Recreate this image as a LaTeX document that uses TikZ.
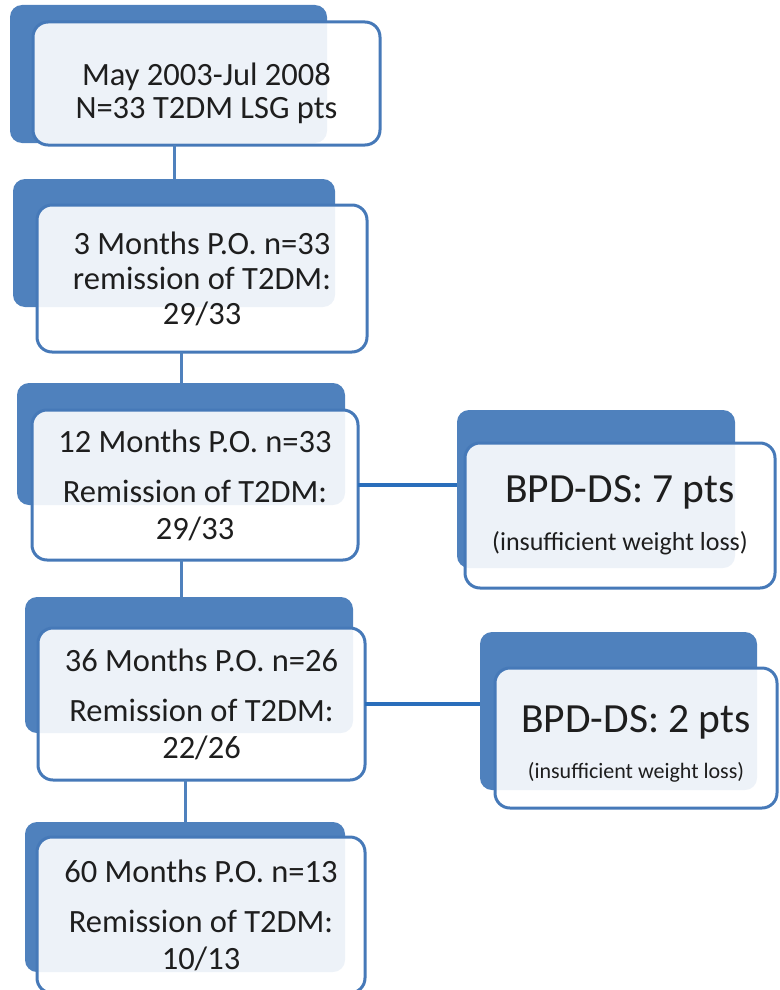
\documentclass[tikz,border=0pt]{standalone}
\usepackage{fontspec}
\setmainfont{Carlito}
\definecolor{boxblue}{HTML}{4F81BD}
\definecolor{edgeblue}{HTML}{4679B8}
\definecolor{linkblue}{HTML}{2A6EBB}
\definecolor{txt}{HTML}{1E1E1E}

\begin{document}
\begin{tikzpicture}[x=1pt, y=-1pt,
  back/.style={fill=boxblue, rounded corners=12pt, inner sep=0pt, outer sep=0pt},
  front/.style={draw=edgeblue, line width=3pt, fill=white, fill opacity=0.9, text opacity=1, rounded corners=15pt, inner sep=0pt, outer sep=0pt, align=center, text=txt, font={\fontsize{32.5}{37}\selectfont}},
  vlink/.style={draw=boxblue, line width=3pt},
  hlink/.style={draw=linkblue, line width=4pt}]
\useasboundingbox (0,0) rectangle (779,990);
% main column
\node[back, minimum width=317pt, minimum height=138pt] (b1b) at (168.5,74) {};
\node[front, minimum width=347pt, minimum height=123pt, font={\fontsize{32.5}{33}\selectfont}] (b1f) at (206.5,83.5) {\rule{0pt}{42pt}May 2003-Jul 2008\\N=33 T2DM LSG pts};
\node[back, minimum width=322pt, minimum height=128pt] (b2b) at (174,243) {};
\node[front, minimum width=330pt, minimum height=147pt, font={\fontsize{32.5}{35}\selectfont}] (b2f) at (202,278.5) {3 Months P.O. n=33\\remission of T2DM:\\29/33};
\node[back, minimum width=328pt, minimum height=122pt] (b3b) at (181,444) {};
\node[front, minimum width=326pt, minimum height=150pt] (b3f) at (195,485) {12 Months P.O. n=33\\[13pt]Remission of T2DM:\\29/33};
\node[back, minimum width=328pt, minimum height=136pt] (b4b) at (189,665) {};
\node[front, minimum width=327pt, minimum height=152pt] (b4f) at (201.5,704) {36 Months P.O. n=26\\[13pt]Remission of T2DM:\\22/26};
\node[back, minimum width=320pt, minimum height=150pt] (b5b) at (185,897) {};
\node[front, minimum width=328pt, minimum height=156pt] (b5f) at (201,915) {60 Months P.O. n=13\\[13pt]Remission of T2DM:\\10/13};
% side boxes
\node[back, minimum width=278pt, minimum height=158pt] (s1b) at (596,489) {};
\node[front, minimum width=310pt, minimum height=145pt] (s1f) at (620,515.5) {{\fontsize{41.5}{44}\selectfont BPD-DS: 7 pts}\\[11pt]{\fontsize{26}{28}\selectfont (insufficient weight loss)}};
\node[back, minimum width=277pt, minimum height=158pt] (s2b) at (618.5,711) {};
\node[front, minimum width=282pt, minimum height=140pt] (s2f) at (636,738) {{\fontsize{41.5}{44}\selectfont\rule{0pt}{39pt}BPD-DS: 2 pts}\\[9pt]{\fontsize{22}{25}\selectfont (insufficient weight loss)}};
\draw[vlink] (b1f.south -| b2b.north) -- (b2b.north);
\draw[vlink] (b2f.south -| b3b.north) -- (b3b.north);
\draw[vlink] (b3f.south -| b3b.south) -- (b3b.south |- b4b.north);
\draw[vlink] (b4f.south -| b5b.north) -- (b5b.north);
\draw[hlink] (b3f.east) -- (s1b.west |- b3f.east);
\draw[hlink] (b4f.east) -- (s2b.west |- b4f.east);
\end{tikzpicture}
\end{document}
